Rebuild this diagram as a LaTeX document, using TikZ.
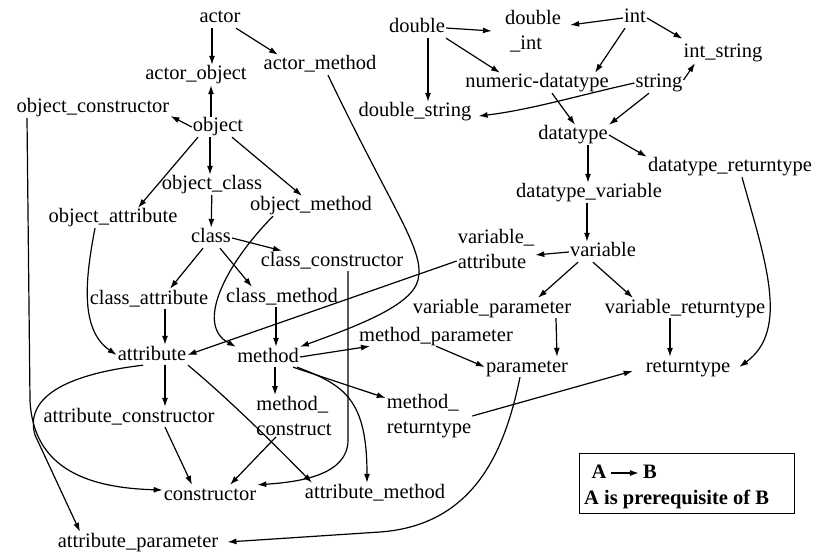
\documentclass[tikz,border=0pt]{standalone}
\usepackage{fontspec}
\setmainfont{Liberation Serif}
\usetikzlibrary{arrows.meta}
\begin{document}
\begin{tikzpicture}[x=1pt,y=-1pt,
every node/.style={font=\fontsize{20.5}{25}\selectfont, inner sep=1pt},
lbl/.style={text height=14pt, text depth=4pt},
lbl2/.style={align=left},
pre/.style={-{Latex[length=9pt,width=6pt]}, line width=1.2pt}]
\fill[white] (0,0) rectangle (816,553);
\useasboundingbox (0,0) rectangle (816,553);
\node[lbl] (actor) at (220,18){actor};
\node[lbl] (actorobj) at (196,75){actor\_object};
\node[lbl] (actormeth) at (320,65){actor\_method};
\node[lbl] (objcons) at (93,108){object\_constructor};
\node[lbl] (object) at (218,127){object};
\node[lbl] (objclass) at (212,185){object\_class};
\node[lbl] (objmeth) at (311,206){object\_method};
\node[lbl] (objattr) at (113,218){object\_attribute};
\node[lbl] (class) at (211,238){class};
\node[lbl] (classcons) at (332,261){class\_constructor};
\node[lbl] (classattr) at (149,299){class\_attribute};
\node[lbl] (classmeth) at (282,297){class\_method};
\node[lbl] (attr) at (152,355){attribute};
\node[lbl] (meth) at (268,357){method};
\node[lbl] (methpar) at (436,336){method\_parameter};
\node[lbl] (attrcons) at (129,417){attribute\_constructor};
\node[lbl2] (methcons) at (294,416){method\_\\construct};
\node[lbl2] (methret) at (429,416){method\_\\returntype};
\node[lbl] (cons) at (210,495){constructor};
\node[lbl] (attrmeth) at (375,493){attribute\_method};
\node[lbl] (attrpar) at (138,542){attribute\_parameter};
\node[lbl] (double) at (417,28){double};
\node[lbl2] (dblint) at (533,31){double\\\ \_int};
\node[lbl] (int) at (635,18){int};
\node[lbl] (intstr) at (723,53){int\_string};
\node[lbl] (numdt) at (537,83){numeric-datatype};
\node[lbl] (string) at (659,83){string};
\node[lbl] (dblstr) at (415,112){double\_string};
\node[lbl] (dtype) at (573,135){datatype};
\node[lbl] (dtret) at (730,167){datatype\_returntype};
\node[lbl] (dtvar) at (589,193){datatype\_variable};
\node[lbl2] (varattr) at (496,249){variable\_\\attribute};
\node[lbl] (var) at (603,252){variable};
\node[lbl] (varpar) at (492,308){variable\_parameter};
\node[lbl] (varret) at (685,308){variable\_returntype};
\node[lbl] (par) at (527,367){parameter};
\node[lbl] (ret) at (688,367){returntype};
\draw[pre] ([xshift=-8pt]actor.south) -- ([xshift=16pt]actorobj.north);
\draw[pre] (actor) -- ([xshift=-42pt]actormeth.north);
\draw[pre] ([xshift=-7pt]object.north) -- ([xshift=15pt]actorobj.south);
\draw[pre] (object.west) -- ([yshift=-8pt]objcons.east);
\draw[pre] ([xshift=-8pt]object.south) -- ([xshift=-2pt]objclass.north);
\draw[pre] ([xshift=-20pt]object.south) -- ([xshift=25pt]objattr.north);
\draw[pre] ([xshift=14pt]object.south) -- ([xshift=-9pt]objmeth.north);
\draw[pre] (objclass) -- (class);
\draw[pre] (class.east) -- ([xshift=-50pt]classcons.north);
\draw[pre] ([xshift=-8pt]class.south) -- ([xshift=21pt]classattr.north);
\draw[pre] ([xshift=9pt]class.south) -- ([xshift=-30pt]classmeth.north);
\draw[pre] ([xshift=16pt]classattr.south) -- ([xshift=13pt]attr.north);
\draw[pre] ([xshift=-6pt]classmeth.south) -- ([xshift=8pt]meth.north);
\draw[pre] ([xshift=-18pt]objattr.south) .. controls (85,280) and (80,330) .. (attr.west);
\draw[pre] ([xshift=-38pt]objmeth.south) .. controls (225,265) and (195,325) .. (meth.north west);
\draw[pre] ([xshift=8pt]actormeth.south) .. controls (395,215) and (425,250) .. (418,280) .. controls (412,305) and (360,325) .. (meth.north east);
\draw[pre] ([yshift=-12pt]varattr.west) -- (attr.east);
\draw[pre] (meth.east) -- ([xshift=12pt]methpar.south west);
\draw[pre] ([xshift=7pt]meth.south) -- ([xshift=-19pt]methcons.north);
\draw[pre] ([xshift=25pt]meth.south) -- ([yshift=18pt]methret.west);
\draw[pre] ([xshift=29pt]meth.south) .. controls (345,385) and (367,400) .. ([xshift=-8pt]attrmeth.north);
\draw[pre] ([xshift=13pt]attr.south) -- ([xshift=36pt]attrcons.north);
\draw[pre] ([xshift=36pt]attr.south) .. controls (230,400) and (280,450) .. ([xshift=-63pt]attrmeth.north);
\draw[pre] ([xshift=-9pt]attr.south) .. controls (60,375) and (25,400) .. (35,435) -- ([xshift=-58pt]attrpar.north);
\draw[pre] ([xshift=-66pt]objcons.south) -- (30,400) .. controls (33,470) and (90,488) .. ([yshift=5pt]cons.west);
\draw[pre] ([xshift=36pt]attrcons.south) -- ([xshift=-18pt]cons.north);
\draw[pre] ([xshift=-18pt]methcons.south) -- ([xshift=20pt]cons.north);
\draw[pre] ([xshift=16pt]classcons.south) -- (348,440) .. controls (348,475) and (300,482) .. (cons.north east);
\draw[pre] ([xshift=-7pt]par.south) .. controls (505,450) and (475,525) .. (380,532) -- ([xshift=8pt]attrpar.east);
\draw[pre] (methret.east) -- ([xshift=-12pt,yshift=-4pt]ret.west);
\draw[pre] (methpar.south) -- (par.west);
\draw[pre] ([xshift=64pt]varpar.south) -- ([xshift=30pt]par.north);
\draw[pre] ([xshift=-15pt]varret.south) -- ([xshift=-18pt]ret.north);
\draw[pre] ([xshift=12pt]dtret.south) .. controls (765,260) and (790,330) .. ([xshift=8pt]ret.east);
\draw[pre] ([xshift=-25pt]var.south) -- ([xshift=46pt]varpar.north);
\draw[pre] ([xshift=-10pt]var.south) -- ([xshift=-52pt]varret.north);
\draw[pre] (var.west) -- ([yshift=-6pt]varattr.east);
\draw[pre] ([xshift=-2pt]dtvar.south) -- ([xshift=-16pt]var.north);
\draw[pre] ([xshift=15pt]dtype.south) -- ([xshift=-1pt]dtvar.north);
\draw[pre] (dtype.east) -- (dtret.north west);
\draw[pre] ([xshift=15pt]numdt.south) -- ([xshift=2pt]dtype.north);
\draw[pre] ([xshift=-10pt]string.south) -- (dtype.north east);
\draw[pre] ([yshift=3pt]string.east) -- ([xshift=-28pt]intstr.south);
\draw[pre] (string.west) .. controls (580,95) and (530,110) .. ([xshift=6pt,yshift=-4pt]dblstr.east);
\draw[pre] (double.east) -- ([xshift=-12pt]dblint.west);
\draw[pre] (int.west) -- ([xshift=8pt,yshift=6pt]dblint.east);
\draw[pre] (int.east) -- ([yshift=4pt]intstr.north west);
\draw[pre] ([xshift=-10pt]int.south) -- ([xshift=58pt]numdt.north);
\draw[pre] (double.south east) -- ([xshift=-37pt]numdt.north);
\draw[pre] ([xshift=11pt]double.south) -- ([xshift=13pt]dblstr.north);
\draw[line width=1pt] (579,453) rectangle (794,513);
\node[lbl, font=\fontsize{20.5}{25}\selectfont\bfseries] (lga) at (599,473){A};
\node[lbl, font=\fontsize{20.5}{25}\selectfont\bfseries] (lgb) at (650,473){B};
\draw[pre, line width=1.5pt, shorten <=3pt, shorten >=3pt] (lga) -- (lgb);
\node[lbl, anchor=west, font=\fontsize{20.5}{25}\selectfont\bfseries] (lgtxt) at (583,499){A is prerequisite of B};
\end{tikzpicture}
\end{document}
